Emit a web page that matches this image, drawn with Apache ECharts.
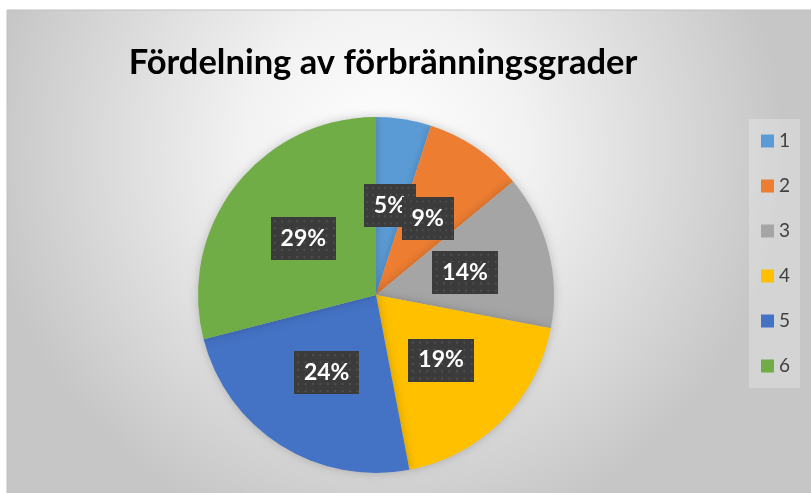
<!DOCTYPE html>
<html>
<head>
<meta charset="utf-8">
<script src="https://cdn.jsdelivr.net/npm/echarts@6/dist/echarts.min.js"></script>
<style>
  html, body { margin: 0; padding: 0; background: #fff; }
  #chart { width: 811px; height: 493px; }
</style>
</head>
<body>
<div id="chart"></div>
<script>
// data
var titleText = 'Fördelning av förbränningsgrader';
var categories = ['1', '2', '3', '4', '5', '6'];
var values = [5, 9, 14, 19, 24, 29];
var colors = ['#5B9BD5', '#ED7D31', '#A5A5A5', '#FFC000', '#4472C4', '#70AD47'];

var pieCenter = [376, 295];
var pieRadius = 178;

// dotted dark fill for the data labels
function dotPattern(w, h) {
    var c = document.createElement('canvas');
    c.width = w; c.height = h;
    var ctx = c.getContext('2d');
    ctx.fillStyle = '#3b3b3b';
    ctx.fillRect(0, 0, w, h);
    ctx.fillStyle = '#4e4e4e';
    for (var y = 3; y < h; y += 7) {
        for (var x = 3; x < w; x += 7) {
            ctx.fillRect(x, y, 2, 2);
        }
    }
    return c;
}
var labelBg = dotPattern(62, 42);

var total = values.reduce(function (a, b) { return a + b; }, 0);

var myChart = echarts.init(document.getElementById('chart'));

var options = {
    backgroundColor: '#ffffff',
    animation: false,
    color: colors,
    graphic: [
        {
            type: 'rect',
            z: -10,
            shape: { x: 7, y: 10, width: 820, height: 500 },
            style: {
                fill: new echarts.graphic.RadialGradient(0.46, 0.28, 0.8, [
                    { offset: 0, color: '#ffffff' },
                    { offset: 0.35, color: '#f2f2f2' },
                    { offset: 1, color: '#c6c6c6' }
                ]),
                stroke: '#c0c0c0',
                lineWidth: 1
            }
        },
        {
            type: 'text',
            x: 383,
            y: 63,
            style: {
                text: titleText,
                font: 'bold 34.5px Lato',
                fill: '#000000',
                textAlign: 'center',
                textVerticalAlign: 'middle'
            }
        }
    ],
    legend: {
        orient: 'vertical',
        left: 749,
        top: 119,
        data: categories,
        icon: 'rect',
        itemWidth: 13,
        itemHeight: 13,
        itemGap: 25,
        itemTextGap: 7,
        padding: [12, 10, 12, 12],
        backgroundColor: 'rgba(255,255,255,0.25)',
        textStyle: { color: '#404040', fontSize: 19, fontFamily: 'Lato', lineHeight: 20 }
    },
    series: [{
        type: 'pie',
        center: pieCenter,
        radius: pieRadius,
        startAngle: 90,
        clockwise: true,
        silent: true,
        avoidLabelOverlap: false,
        itemStyle: {
            shadowBlur: 10,
            shadowColor: 'rgba(0,0,0,0.2)'
        },
        label: {
            show: true,
            position: 'inside',
            formatter: function (p) { return Math.round(p.percent) + '%'; },
            color: '#ffffff',
            fontFamily: 'Lato',
            fontWeight: 'bold',
            fontSize: 23,
            lineHeight: 24,
            padding: [10, 10, 9, 10],
            backgroundColor: { image: labelBg },
            shadowColor: 'rgba(0,0,0,0.45)',
            shadowBlur: 6,
            shadowOffsetX: 2,
            shadowOffsetY: 3
        },
        labelLine: { show: false },
        // the smallest slice's label gets dropped as "inside" - put it back at mid radius
        labelLayout: function (p) {
            if (p.dataIndex !== 0) return {};
            var mid = (values[0] / 2) / total * Math.PI * 2;
            var r = pieRadius / 2;
            return {
                x: pieCenter[0] + r * Math.sin(mid),
                y: pieCenter[1] - r * Math.cos(mid) - 2,
                align: 'center',
                verticalAlign: 'middle'
            };
        },
        data: categories.map(function (c, i) {
            var d = { name: c, value: values[i] };
            if (i === 0) d.label = { position: 'outside' };
            return d;
        })
    }]
};
myChart.setOption(options);
</script>
</body>
</html>
